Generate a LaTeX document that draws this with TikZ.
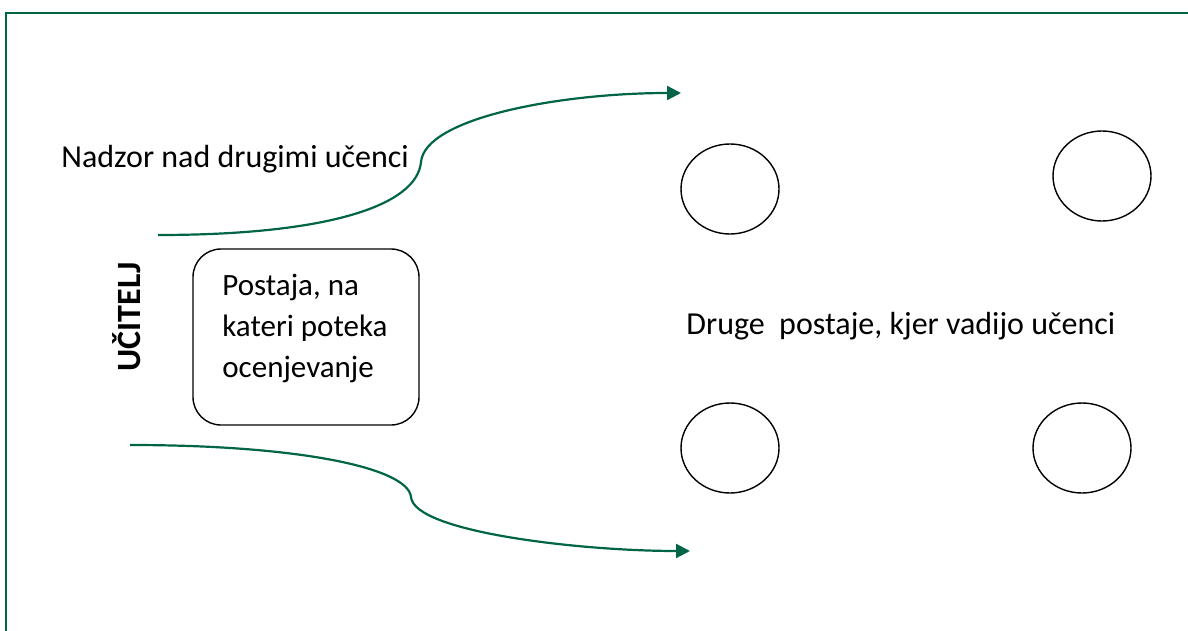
\documentclass[tikz,border=0pt]{standalone}
\usepackage{fontspec}
\setmainfont{Carlito}
\usetikzlibrary{arrows.meta,shapes.geometric}
\definecolor{frameGreen}{RGB}{0,100,70}
\frenchspacing
\tikzset{
  greenline/.style={draw=frameGreen, line width=1.1pt},
  arrowline/.style={greenline, -{Triangle[length=7pt,width=7pt]}},
  station/.style={draw=black, line width=0.7pt, ellipse, minimum width=49pt, minimum height=45pt, inner sep=0pt},
  lbl/.style={font=\fontsize{16}{19}\selectfont, inner sep=0pt},
  boxtext/.style={font=\fontsize{15.5}{20.3}\selectfont, inner sep=0pt, align=left},
}
\begin{document}
\begin{tikzpicture}[x=0.5pt,y=-0.5pt]
\useasboundingbox (0,0) rectangle (1188,631);
% frame (partly outside)
\draw[greenline] (1200,13) -- (6,13) -- (6,640);
% UČITELJ
\node[font=\fontsize{17}{19}\selectfont\bfseries, rotate=90, inner sep=0pt] (teacher) at (127,317) {UČITELJ};
% assessment station
\node[draw=black, line width=0.7pt, rounded corners=14pt, minimum width=113pt, minimum height=88pt] (post) at (306,337) {};
\node[boxtext, anchor=base west] (posttext) at (222,377) {Postaja, na\\kateri poteka\\ocenjevanje};
% label top
\node[lbl, anchor=west] (nadzor) at (61,159) {Nadzor nad drugimi učenci};
% other stations
\node[station] (s1) at (730,189) {};
\node[station] (s2) at (1102,176) {};
\node[station] (s3) at (730,448) {};
\node[station] (s4) at (1082,448) {};
\node[lbl, anchor=west] (druge) at (686,326) {Druge\ \ postaje, kjer vadijo učenci};
% arrows
\coordinate (a1s) at (158,235);
\coordinate (a1k) at (421,162);
\coordinate (a1e) at (681,93);
\coordinate (a2s) at (130,445);
\coordinate (a2k) at (411,497);
\coordinate (a2e) at (690,551);
\draw[arrowline] (a1s) .. controls (330,235) and (417,205) .. (a1k) .. controls (425,118) and (560,93) .. (a1e);
\draw[arrowline] (a2s) .. controls (300,445) and (408,468) .. (a2k) .. controls (414,532) and (580,551) .. (a2e);
\end{tikzpicture}
\end{document}
